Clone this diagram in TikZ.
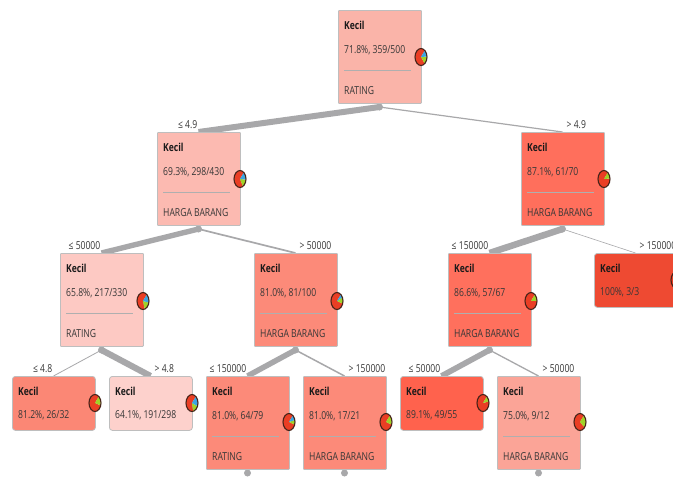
\documentclass[tikz,border=0pt]{standalone}
\usepackage{fontspec}
\setmainfont{Open Sans}[FakeStretch=0.78]
\usetikzlibrary{calc}
\definecolor{cRoot}{RGB}{250,180,169}
\definecolor{cLa}{RGB}{252,186,177}
\definecolor{cRa}{RGB}{255,111,92}
\definecolor{cA}{RGB}{253,201,195}
\definecolor{cB}{RGB}{252,138,121}
\definecolor{cC}{RGB}{255,112,93}
\definecolor{cD}{RGB}{238,74,50}
\definecolor{cE}{RGB}{251,135,117}
\definecolor{cF}{RGB}{253,209,204}
\definecolor{cG}{RGB}{252,138,121}
\definecolor{cI}{RGB}{255,98,77}
\definecolor{cJ}{RGB}{251,164,151}
\definecolor{boxline}{RGB}{190,190,190}
\definecolor{edgec}{RGB}{168,168,170}
\definecolor{sepc}{RGB}{175,175,175}
\definecolor{txtc}{RGB}{55,55,55}
\definecolor{pred}{RGB}{234,62,36}
\definecolor{pgreen}{RGB}{160,210,40}
\definecolor{pblue}{RGB}{60,165,225}
\definecolor{pbord}{RGB}{70,35,25}
\tikzset{
  tbox/.style={draw=boxline, line width=0.8pt, minimum width=83pt, inner sep=0pt, anchor=north west},
  ibox/.style={tbox, rounded corners=0.8pt, minimum height=93pt},
  lbox/.style={tbox, rounded corners=3pt, minimum height=54pt},
  kec/.style={font=\fontsize{11}{13}\selectfont\bfseries, text=black!90, inner sep=0pt, anchor=base west},
  val/.style={font=\fontsize{11}{13}\selectfont, text=txtc, inner sep=0pt, anchor=base west},
  lab/.style={font=\fontsize{11}{13}\selectfont, text=txtc, inner sep=0pt},
  sep/.style={draw=sepc, line width=0.8pt},
  edge/.style={draw=edgec},
  dotc/.style={fill=edgec},
}
% internal node: name, x, y, fill, value, attribute
\newcommand{\inode}[6]{%
  \node[ibox, fill=#4] (#1) at (#2,#3) {};
  \node[kec] (#1k) at (#2+6,#3+19) {Kecil};
  \node[val] (#1v) at (#2+6,#3+43) {#5};
  \draw[sep] (#2+6,#3+60) -- (#2+73,#3+60);
  \node[val] (#1a) at (#2+6,#3+84) {#6};
}
% leaf node: name, x, y, fill, value
\newcommand{\lnode}[5]{%
  \node[lbox, fill=#4] (#1) at (#2,#3) {};
  \node[kec] (#1k) at (#2+6,#3+19) {Kecil};
  \node[val] (#1v) at (#2+6,#3+42) {#5};
}
% pie: x, y, red, green, blue  (inside: y axis points up, angles counter-clockwise)
\newcommand{\piechart}[5]{%
  \begin{scope}[shift={(#1,#2)}, x=1pt, y=1pt]
    \pgfmathsetmacro{\sa}{50}
    \pgfmathsetmacro{\da}{#3*360}
    \pgfmathsetmacro{\sb}{\sa+\da}
    \pgfmathsetmacro{\db}{#4*360}
    \pgfmathsetmacro{\sc}{\sb+\db}
    \pgfmathsetmacro{\dc}{#5*360}
    \fill[pred] (0,0) -- (\sa:6 and 8.5) arc[start angle=\sa, delta angle=\da, x radius=6, y radius=8.5] -- cycle;
    \ifdim #4pt>0pt
      \fill[pgreen] (0,0) -- (\sb:6 and 8.5) arc[start angle=\sb, delta angle=\db, x radius=6, y radius=8.5] -- cycle;
    \fi
    \ifdim #5pt>0pt
      \fill[pblue] (0,0) -- (\sc:6 and 8.5) arc[start angle=\sc, delta angle=\dc, x radius=6, y radius=8.5] -- cycle;
    \fi
    \draw[pbord, line width=1.1pt] (0,0) ellipse[x radius=6, y radius=8.5];
  \end{scope}
}
\begin{document}
\begin{tikzpicture}[x=1pt, y=-1pt]
\path[use as bounding box, clip] (0,0) rectangle (673,477);
\fill[white] (0,0) rectangle (673,477);
% dot coordinates for nodes
\coordinate (rootb) at (379.5,107);
\coordinate (l1b) at (198.5,229);
\coordinate (r1b) at (562.5,229);
\coordinate (ab) at (101.5,350);
\coordinate (bb) at (295.5,350);
\coordinate (cb) at (489.5,350);
% child top centres
\coordinate (l1t) at (198.5,132);
\coordinate (r1t) at (562.5,132);
\coordinate (at) at (101.5,253);
\coordinate (bt) at (295.5,253);
\coordinate (ct) at (489.5,253);
\coordinate (dt) at (635.5,253);
\coordinate (et) at (53.5,376);
\coordinate (ft) at (150.5,376);
\coordinate (gt) at (247.5,376);
\coordinate (ht) at (344.5,376);
\coordinate (it) at (441.5,376);
\coordinate (jt) at (538.5,376);
% edges
\draw[edge, line width=6pt] (rootb) -- (l1t);
\draw[edge, line width=1.2pt] (rootb) -- (r1t);
\draw[edge, line width=5.4pt] (l1b) -- (at);
\draw[edge, line width=1.7pt] (l1b) -- (bt);
\draw[edge, line width=6.5pt] (r1b) -- (ct);
\draw[edge, line width=0.6pt] (r1b) -- (dt);
\draw[edge, line width=0.8pt] (ab) -- (et);
\draw[edge, line width=6.2pt] (ab) -- (ft);
\draw[edge, line width=5.5pt] (bb) -- (gt);
\draw[edge, line width=1.5pt] (bb) -- (ht);
\draw[edge, line width=5.7pt] (cb) -- (it);
\draw[edge, line width=1.3pt] (cb) -- (jt);
% dots
\foreach \d in {rootb,l1b,r1b,ab,bb,cb}{\fill[dotc] (\d) circle (3.5);}
\coordinate (gb) at (247.5,473);
\coordinate (hb) at (344.5,473);
\coordinate (jb) at (538.5,473);
\foreach \d in {gb,hb,jb}{\fill[dotc] (\d) circle (3.5);}
% nodes
\inode{root}{338}{10}{cRoot}{71.8\%, 359/500}{RATING}
\inode{l1}{157}{132}{cLa}{69.3\%, 298/430}{HARGA BARANG}
\inode{r1}{521}{132}{cRa}{87.1\%, 61/70}{HARGA BARANG}
\inode{na}{60}{253}{cA}{65.8\%, 217/330}{RATING}
\inode{nb}{254}{253}{cB}{81.0\%, 81/100}{HARGA BARANG}
\inode{nc}{448}{253}{cC}{86.6\%, 57/67}{HARGA BARANG}
\lnode{nd}{594}{253}{cD}{100\%, 3/3}
\lnode{ne}{12}{376}{cE}{81.2\%, 26/32}
\lnode{nf}{109}{376}{cF}{64.1\%, 191/298}
\inode{ng}{206}{376}{cG}{81.0\%, 64/79}{RATING}
\inode{nh}{303}{376}{cG}{81.0\%, 17/21}{HARGA BARANG}
\lnode{ni}{400}{376}{cI}{89.1\%, 49/55}
\inode{nj}{497}{376}{cJ}{75.0\%, 9/12}{HARGA BARANG}
% pies
\piechart{421}{57}{0.718}{0.152}{0.13}
\piechart{240}{179}{0.693}{0.157}{0.15}
\piechart{604}{179}{0.871}{0.129}{0}
\piechart{143}{301}{0.658}{0.172}{0.17}
\piechart{337}{301}{0.81}{0.12}{0.07}
\piechart{531}{301}{0.866}{0.134}{0}
\piechart{677}{280}{1}{0}{0}
\piechart{95}{403}{0.812}{0.188}{0}
\piechart{192}{403}{0.641}{0.16}{0.199}
\piechart{289}{422}{0.81}{0.09}{0.1}
\piechart{386}{422}{0.81}{0.19}{0}
\piechart{483}{403}{0.891}{0.109}{0}
\piechart{580}{422}{0.75}{0.25}{0}
% edge labels
\node[lab, anchor=base east] (t1) at ($(l1t)+(-1,-4)$) {≤ 4.9};
\node[lab, anchor=base west] (t2) at ($(r1t)+(4,-4)$) {> 4.9};
\node[lab, anchor=base east] (t3) at ($(at)+(-1,-4)$) {≤ 50000};
\node[lab, anchor=base west] (t4) at ($(bt)+(4,-4)$) {> 50000};
\node[lab, anchor=base east] (t5) at ($(ct)+(-1,-4)$) {≤ 150000};
\node[lab, anchor=base west] (t6) at ($(dt)+(4,-4)$) {> 150000};
\node[lab, anchor=base east] (t7) at ($(et)+(-1,-4)$) {≤ 4.8};
\node[lab, anchor=base west] (t8) at ($(ft)+(4,-4)$) {> 4.8};
\node[lab, anchor=base east] (t9) at ($(gt)+(-1,-4)$) {≤ 150000};
\node[lab, anchor=base west] (t10) at ($(ht)+(4,-4)$) {> 150000};
\node[lab, anchor=base east] (t11) at ($(it)+(-1,-4)$) {≤ 50000};
\node[lab, anchor=base west] (t12) at ($(jt)+(4,-4)$) {> 50000};
\end{tikzpicture}
\end{document}
